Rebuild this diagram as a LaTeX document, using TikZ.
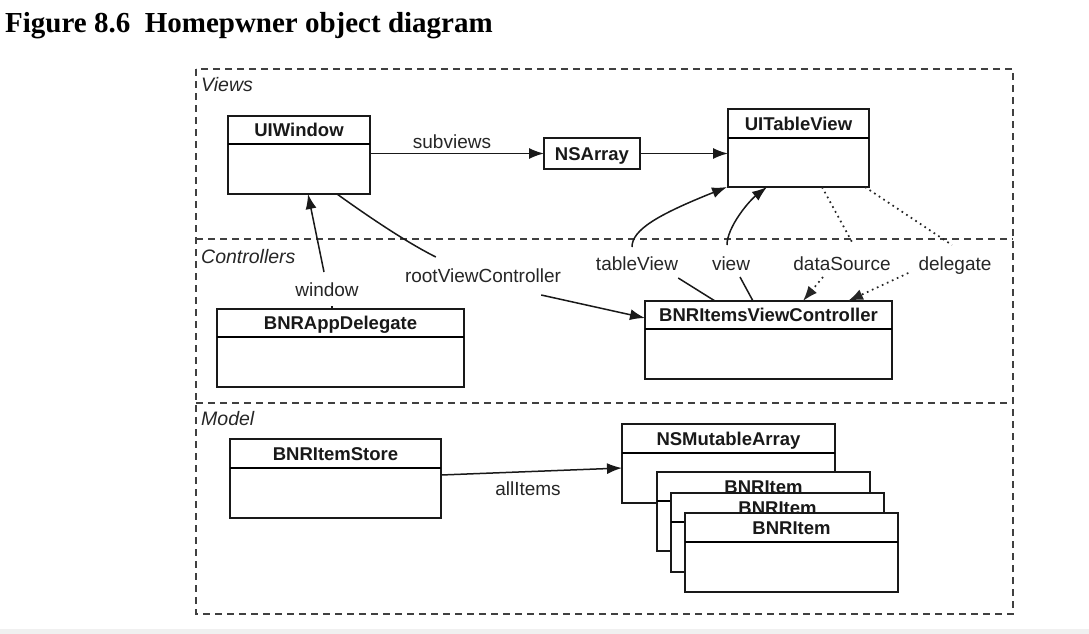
\documentclass[tikz,border=0pt]{standalone}
\usepackage{fontspec}
\setmainfont{Liberation Serif}
\newfontfamily\lsans{Liberation Sans}
\usetikzlibrary{arrows.meta,calc}
\newcommand{\umlbox}[7]{%
  \node[clsbox, minimum width={#5-#3}, minimum height={#6-#4}] (#1) at ({(#3+#5)/2},{(#4+#6)/2}) {};
  \draw[line width=1.6pt] (#3,#7) -- (#5,#7);
  \node[clsname] (#1-t) at ({(#3+#5)/2},{(#4+#7)/2}) {#2};}
\begin{document}
\begin{tikzpicture}[x=1pt,y=-1pt,
  frame/.style={draw=black!75, line width=1.7pt, dash pattern=on 7pt off 5pt},
  clsbox/.style={draw=black!90, line width=1.7pt, fill=white, inner sep=0pt, outer sep=0pt},
  clsname/.style={font=\lsans\bfseries\fontsize{18.5}{20}\selectfont, inner sep=0pt, text height=13.3pt, text depth=0pt, text=black!90},
  lbl/.style={font=\lsans\fontsize{19}{21}\selectfont, inner sep=0pt, text height=13.6pt, text depth=0pt, text=black!85},
  sect/.style={font=\lsans\itshape\fontsize{19.5}{21}\selectfont, inner sep=0pt, anchor=west, text height=13.6pt, text depth=0pt, text=black!85},
  conn/.style={line width=1.5pt, draw=black!90},
  arr/.style={conn, -{Latex[length=15pt,width=11pt]}},
  dotl/.style={line width=1.7pt, draw=black!85, dash pattern=on 1.7pt off 3.8pt},
  dotarr/.style={dotl, -{Latex[length=15pt,width=11pt]}}
]
\useasboundingbox (0,0) rectangle (1089,634);
\fill[white] (0,0) rectangle (1089,634);
\fill[black!6] (0,629) rectangle (1089,634);

% title
\node[anchor=base west, font=\bfseries\fontsize{29}{32}\selectfont, inner sep=0pt] (title) at (5,33) {Figure 8.6\hspace{0.5em}Homepwner object diagram};

% frames
\draw[frame] (196,69) rectangle (1013,614);
\draw[frame] (196,239) -- (1013,239);
\draw[frame] (196,403) -- (1013,403);
\node[sect] (sViews) at (201,85) {Views};
\node[sect] (sCtrl) at (201,257) {Controllers};
\node[sect] (sModel) at (201,419) {Model};

% classes
\umlbox{uiwin}{UIWindow}{228}{116}{370}{194}{144}
\node[clsbox, minimum width=96, minimum height=31] (nsarr) at (592,153.5) {};
\node[clsname] (nsarr-t) at (592,153.5) {NSArray};
\umlbox{uitv}{UITableView}{728}{109}{869}{187}{138}
\umlbox{ivc}{BNRItemsViewController}{645}{301}{892}{379}{329}
\umlbox{appdel}{BNRAppDelegate}{217}{309}{464}{387}{337}
\umlbox{store}{BNRItemStore}{230}{439}{441}{518}{468}
\umlbox{nsma}{NSMutableArray}{622}{424}{835}{503}{453}
\umlbox{item1}{BNRItem}{657}{472}{870}{551}{501}
\umlbox{item2}{BNRItem}{671}{493}{884}{572}{522}
\umlbox{item3}{BNRItem}{685}{513}{898}{592}{542}

% labels
\node[lbl] (lSub) at (452,142) {subviews};
\node[lbl] (lWin) at (327,290) {window};
\node[lbl] (lRoot) at (483,276) {rootViewController};
\node[lbl] (lTV) at (637,264) {tableView};
\node[lbl] (lView) at (731,264) {view};
\node[lbl] (lDS) at (842,264) {dataSource};
\node[lbl] (lDel) at (955,264) {delegate};
\node[lbl] (lAll) at (528,489) {allItems};

% connectors
\draw[arr] (uiwin.east |- nsarr.west) -- (nsarr.west);
\draw[arr] (nsarr.east) -- (uitv.west |- nsarr.east);

\draw[arr] ($(lWin.north)+(-3,-11)$) -- ($(uiwin.south)+(9,0)$);
\draw[conn] ($(lWin.south)+(5,9)$) -- ($(appdel.north)+(-8.5,0)$);

\draw[conn] ($(uiwin.south)+(38,0)$) .. controls +(25,18) and +(-32,-16) .. ($(lRoot.north west)+(31,-12)$);
\draw[arr] ($(lRoot.south east)+(-20,12)$) -- ($(ivc.north west)+(0,17)$);

\draw[arr] ($(lTV.north)+(-5,-10)$) .. controls +(0,-17) and +(-70,28) .. ($(uitv.south west)+(-1,0)$);
\draw[conn] ($(lTV.south east)+(0,7)$) -- ($(ivc.north west)+(70,0)$);

\draw[arr] ($(lView.north)+(-4,-12)$) .. controls +(0,-18) and +(-18,14) .. ($(uitv.south west)+(39,0)$);
\draw[conn] ($(lView.south)+(9,6)$) -- ($(ivc.north west)+(108,0)$);

\draw[dotl] ($(uitv.south west)+(94,0)$) -- ($(lDS.north)+(10,-15)$);
\draw[dotarr] ($(lDS.south)+(-19,6)$) -- ($(ivc.north west)+(158,0)$);

\draw[dotl] ($(uitv.south west)+(137,0)$) -- ($(lDel.north)+(-3,-12)$);
\draw[dotarr] ($(lDel.south west)+(-10,2)$) -- ($(ivc.north west)+(203,0)$);

\draw[arr] ($(store.east)+(0,-3.5)$) -- ($(nsma.west)+(0,4.5)$);
\end{tikzpicture}
\end{document}
